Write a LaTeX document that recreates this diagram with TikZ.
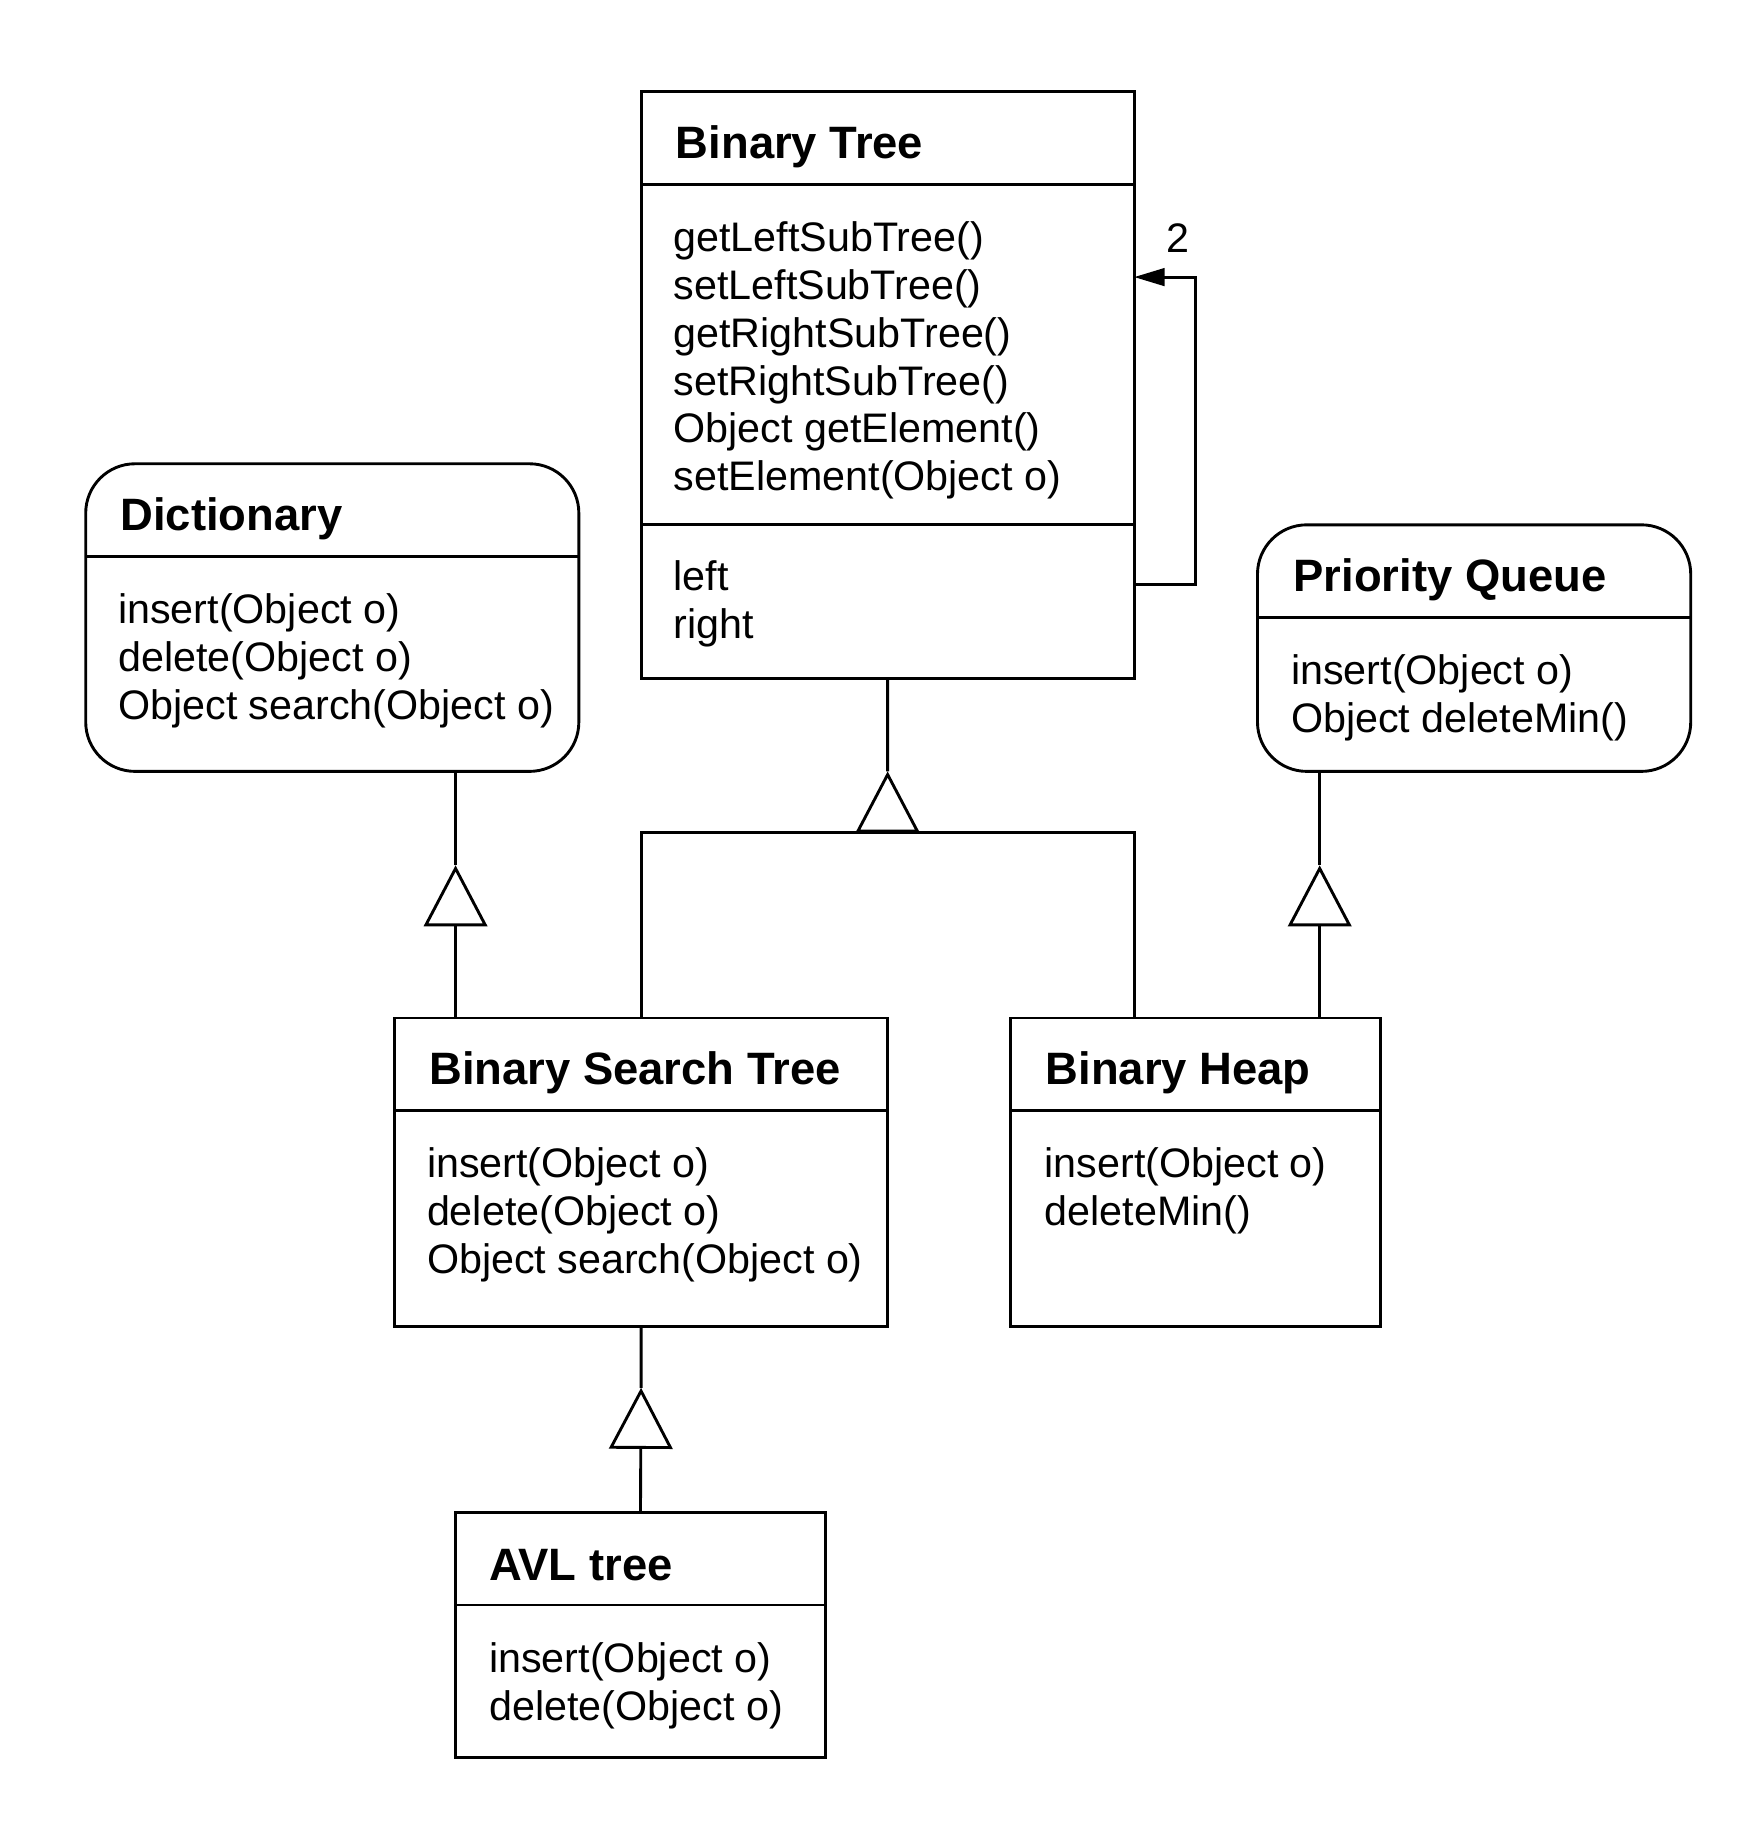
\documentclass[tikz,border=0pt]{standalone}
\usepackage{fontspec}
\setmainfont{Liberation Sans}
\usepackage{tikz}
\usetikzlibrary{arrows.meta}

\tikzset{
  cls/.style={draw, line width=0.7pt, inner sep=0pt, outer sep=0pt, anchor=north west},
  iface/.style={cls, rounded corners=0.42cm},
  cname/.style={font=\fontsize{11}{13}\selectfont\bfseries, anchor=west, inner sep=0pt},
  members/.style={font=\fontsize{10}{11.6}\selectfont, align=left, anchor=north west, inner sep=0pt},
  gen/.style={-{Triangle[open, length=0.52cm, width=0.54cm]}, line width=0.7pt},
  line/.style={line width=0.7pt},
}

\begin{document}
\begin{tikzpicture}
  \useasboundingbox (0,0) rectangle (14.91,-15.68);

  % Binary Tree
  \node[cls, minimum width=4.20cm, minimum height=5.00cm] (bt) at (5.46,-0.78) {};
  \node[cname] (btname) at ([xshift=0.29cm, yshift=-0.47cm]bt.north west) {Binary Tree};
  \draw[line] ([yshift=-0.79cm]bt.north west) -- ([yshift=-0.79cm]bt.north east);
  \node[members] (btops) at ([xshift=0.27cm, yshift=-1.10cm]bt.north west)
    {getLeftSubTree()\\setLeftSubTree()\\getRightSubTree()\\setRightSubTree()\\Object getElement()\\setElement(Object o)};
  \draw[line] ([yshift=-3.69cm]bt.north west) -- ([yshift=-3.69cm]bt.north east);
  \node[members] (btattrs) at ([xshift=0.27cm, yshift=-3.99cm]bt.north west) {left\\right};

  % Dictionary
  \node[iface, minimum width=4.20cm, minimum height=2.62cm] (dict) at (0.73,-3.95) {};
  \node[cname] (dictname) at ([xshift=0.29cm, yshift=-0.47cm]dict.north west) {Dictionary};
  \draw[line] ([yshift=-0.79cm]dict.north west) -- ([yshift=-0.79cm]dict.north east);
  \node[members] (dictops) at ([xshift=0.27cm, yshift=-1.10cm]dict.north west)
    {insert(Object o)\\delete(Object o)\\Object search(Object o)};

  % Priority Queue
  \node[iface, minimum width=3.69cm, minimum height=2.10cm] (pq) at (10.71,-4.47) {};
  \node[cname] (pqname) at ([xshift=0.30cm, yshift=-0.47cm]pq.north west) {Priority Queue};
  \draw[line] ([yshift=-0.79cm]pq.north west) -- ([yshift=-0.79cm]pq.north east);
  \node[members] (pqops) at ([xshift=0.28cm, yshift=-1.10cm]pq.north west)
    {insert(Object o)\\Object deleteMin()};

  % Binary Search Tree
  \node[cls, minimum width=4.20cm, minimum height=2.63cm] (bst) at (3.36,-8.67) {};
  \node[cname] (bstname) at ([xshift=0.29cm, yshift=-0.47cm]bst.north west) {Binary Search Tree};
  \draw[line] ([yshift=-0.79cm]bst.north west) -- ([yshift=-0.79cm]bst.north east);
  \node[members] (bstops) at ([xshift=0.27cm, yshift=-1.10cm]bst.north west)
    {insert(Object o)\\delete(Object o)\\Object search(Object o)};

  % Binary Heap
  \node[cls, minimum width=3.15cm, minimum height=2.63cm] (bh) at (8.61,-8.67) {};
  \node[cname] (bhname) at ([xshift=0.29cm, yshift=-0.47cm]bh.north west) {Binary Heap};
  \draw[line] ([yshift=-0.79cm]bh.north west) -- ([yshift=-0.79cm]bh.north east);
  \node[members] (bhops) at ([xshift=0.28cm, yshift=-1.10cm]bh.north west)
    {insert(Object o)\\deleteMin()};

  % AVL tree
  \node[cls, minimum width=3.15cm, minimum height=2.09cm] (avl) at (3.88,-12.88) {};
  \node[cname] (avlname) at ([xshift=0.28cm, yshift=-0.45cm]avl.north west) {AVL tree};
  \draw[line] ([yshift=-0.79cm]avl.north west) -- ([yshift=-0.79cm]avl.north east);
  \node[members] (avlops) at ([xshift=0.28cm, yshift=-1.10cm]avl.north west)
    {insert(Object o)\\delete(Object o)};

  % connector ends
  \coordinate (btapex) at (7.56,-6.57);
  \coordinate (btbase) at (7.56,-7.09);
  \coordinate (bhleft) at (9.66,-8.67);
  \coordinate (dictout) at (3.88,-6.57);
  \coordinate (dictapex) at (3.88,-7.37);
  \coordinate (bstleft) at (3.88,-8.67);
  \coordinate (pqout) at (11.24,-6.57);
  \coordinate (pqapex) at (11.24,-7.37);
  \coordinate (bhright) at (11.24,-8.67);
  \coordinate (avlapex) at (5.46,-11.82);
  \coordinate (btattrout) at (9.66,-4.98);
  \coordinate (btopsin) at (9.66,-2.36);

  % generalisation
  \draw[line] (bst.north) |- (btbase) -| (bhleft);
  \draw[gen] (btbase) -- (btapex);
  \draw[line] (btapex) -- (bt.south);
  \draw[gen] (bstleft) -- (dictapex);
  \draw[line] (dictapex) -- (dictout);
  \draw[gen] (bhright) -- (pqapex);
  \draw[line] (pqapex) -- (pqout);
  \draw[gen] (avl.north) -- (avlapex);
  \draw[line] (avlapex) -- (bst.south);

  % left / right subtrees
  \draw[line, -{Triangle[length=0.26cm, width=0.15cm]}] (btattrout) -- ++(0.52,0) |- (btopsin);
  \node[font=\fontsize{10}{12}\selectfont] (mult) at (10.03,-2.03) {2};
\end{tikzpicture}
\end{document}
